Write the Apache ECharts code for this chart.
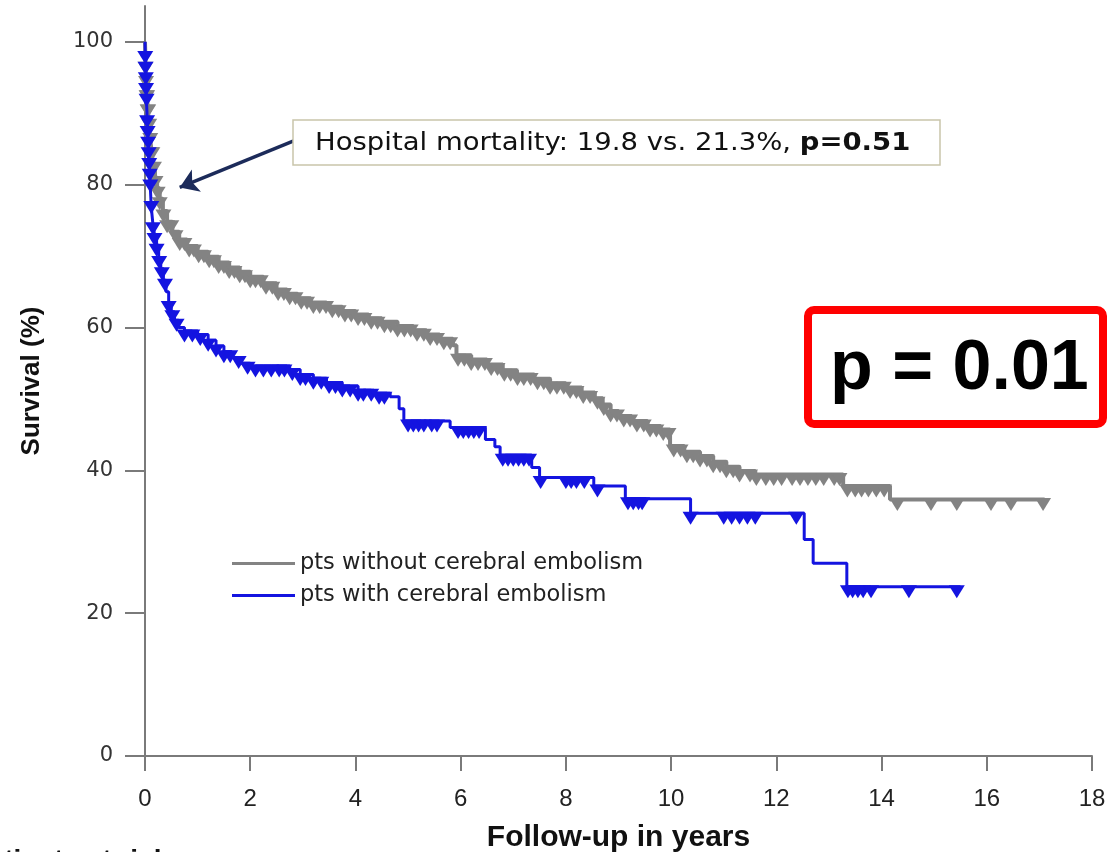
<!DOCTYPE html>
<html>
<head>
<meta charset="utf-8">
<title>Survival by cerebral embolism</title>
<script src="https://cdn.jsdelivr.net/npm/echarts@6/dist/echarts.min.js"></script>
<style>
  html, body { margin: 0; padding: 0; background: #fff; }
  #chart { width: 1107px; height: 852px; }
</style>
</head>
<body>
<div id="chart"></div>
<script>
// --- data ---
// KM steps: time (years) and survival (%) after each drop
const grayTimes = [0, 0.01, 0.02, 0.03, 0.05, 0.07, 0.09, 0.12, 0.15, 0.19, 0.23, 0.28, 0.34, 0.42, 0.52, 0.65, 0.8, 1.0, 1.2, 1.4, 1.6, 1.8, 2.0, 2.25, 2.5, 2.7, 2.9, 3.15, 3.45, 3.75, 4.0, 4.25, 4.5, 4.8, 5.1, 5.35, 5.6, 5.85, 5.92, 6.2, 6.5, 6.8, 7.07, 7.4, 7.7, 8.0, 8.3, 8.55, 8.7, 8.85, 9.0, 9.25, 9.55, 9.8, 9.98, 10.25, 10.55, 10.8, 11.05, 11.3, 11.6, 13.27, 14.16, 17.1];
const grayValues = [100, 97, 95, 93, 91, 89, 87, 85, 83, 81, 79.5, 78, 76.3, 74.8, 73.4, 72.3, 71.4, 70.6, 69.9, 69.1, 68.4, 67.8, 67.1, 66.2, 65.3, 64.7, 64.1, 63.5, 62.9, 62.3, 61.8, 61.3, 60.8, 60.2, 59.6, 59.0, 58.4, 57.5, 56.1, 55.5, 54.8, 54.0, 53.4, 52.8, 52.2, 51.6, 50.9, 50.1, 49.2, 48.3, 47.6, 46.9, 46.2, 45.7, 43.4, 42.6, 42.0, 41.2, 40.5, 39.9, 39.4, 37.8, 35.9, 35.9];
// censored patients (triangles)
const grayCensor = [0.01, 0.02, 0.03, 0.04, 0.05, 0.06, 0.08, 0.1, 0.12, 0.14, 0.17, 0.2, 0.24, 0.28, 0.35, 0.42, 0.5, 0.58, 0.66, 0.75, 0.84, 0.93, 1.02, 1.12, 1.22, 1.31, 1.4, 1.5, 1.6, 1.7, 1.8, 1.9, 2.0, 2.1, 2.2, 2.3, 2.42, 2.53, 2.64, 2.75, 2.86, 2.97, 3.08, 3.2, 3.32, 3.44, 3.56, 3.68, 3.8, 3.92, 4.05, 4.17, 4.3, 4.42, 4.55, 4.67, 4.8, 4.93, 5.05, 5.17, 5.3, 5.42, 5.55, 5.68, 5.8, 5.95, 6.07, 6.2, 6.33, 6.46, 6.58, 6.7, 6.83, 6.95, 7.08, 7.2, 7.33, 7.46, 7.58, 7.7, 7.83, 7.96, 8.08, 8.2, 8.33, 8.46, 8.6, 8.72, 8.85, 8.97, 9.1, 9.22, 9.35, 9.48, 9.6, 9.72, 9.85, 9.95, 10.05, 10.18, 10.3, 10.42, 10.55, 10.68, 10.8, 10.93, 11.05, 11.18, 11.3, 11.5, 11.62, 11.8, 11.95, 12.1, 12.3, 12.45, 12.6, 12.75, 12.9, 13.1, 13.2, 13.35, 13.5, 13.62, 13.75, 13.9, 14.05, 14.3, 14.94, 15.43, 16.08, 16.46, 17.07];

const blueTimes = [0, 0.004, 0.008, 0.012, 0.018, 0.025, 0.032, 0.04, 0.048, 0.056, 0.065, 0.075, 0.085, 0.095, 0.105, 0.115, 0.13, 0.15, 0.18, 0.22, 0.26, 0.3, 0.35, 0.4, 0.45, 0.5, 0.56, 0.64, 0.75, 1.0, 1.2, 1.35, 1.5, 1.65, 1.8, 2.0, 2.75, 2.95, 3.2, 3.45, 3.75, 4.05, 4.35, 4.66, 4.83, 4.92, 5.8, 6.47, 6.65, 6.75, 7.35, 7.5, 8.53, 9.13, 10.37, 12.53, 12.7, 13.34, 15.5];
const blueValues = [100, 98.5, 97, 95.5, 94, 92.5, 91, 89.5, 88, 86.5, 85, 83.5, 82, 80.5, 79, 77.5, 76, 74.5, 73, 71.5, 69.8, 68.2, 66.6, 65, 63.5, 62.2, 61, 60, 59.5, 59.0, 58.2, 57.4, 56.6, 55.8, 55.0, 54.6, 54.1, 53.4, 52.9, 52.3, 51.8, 51.2, 50.8, 50.3, 48.6, 46.9, 46.0, 44.3, 43.3, 42.1, 40.4, 39.0, 37.8, 36.0, 34.0, 30.3, 27.0, 23.7, 23.7];
const blueCensor = [0.005, 0.01, 0.015, 0.02, 0.03, 0.04, 0.05, 0.06, 0.07, 0.08, 0.09, 0.1, 0.12, 0.15, 0.18, 0.22, 0.27, 0.32, 0.38, 0.45, 0.52, 0.6, 0.75, 0.9, 1.05, 1.2, 1.35, 1.5, 1.62, 1.78, 1.95, 2.1, 2.25, 2.4, 2.55, 2.65, 2.8, 2.95, 3.05, 3.2, 3.35, 3.5, 3.62, 3.75, 3.9, 4.05, 4.15, 4.3, 4.45, 4.55, 5.0, 5.1, 5.2, 5.3, 5.45, 5.55, 5.95, 6.05, 6.15, 6.25, 6.35, 6.8, 6.9, 7.0, 7.1, 7.2, 7.3, 7.52, 8.0, 8.1, 8.2, 8.35, 8.6, 9.18, 9.28, 9.38, 9.45, 10.37, 11.0, 11.15, 11.3, 11.45, 11.6, 12.38, 13.36, 13.45, 13.55, 13.65, 13.8, 14.52, 15.43];

const xTicks = [0, 2, 4, 6, 8, 10, 12, 14, 16, 18];
const yTicks = [0, 20, 40, 60, 80, 100];

const grayName = 'pts without cerebral embolism';
const blueName = 'pts with cerebral embolism';

// survival value of a step curve at time t
const stepValue = (times, values, t) => {
  let v = values[0];
  for (let i = 0; i < times.length; i++) {
    if (times[i] <= t) v = values[i];
  }
  return v;
};

const pairs = (xs, ys) => xs.map((x, i) => [x, ys[i]]);
const censorPoints = (cens, times, values) => cens.map(t => [t, stepValue(times, values, t)]);

const GRAY = '#838383';
const BLUE = '#1414e0';

const chart = echarts.init(document.getElementById('chart'));

const censorSymbol = (color, z) => ({
  type: 'scatter',
  symbol: 'triangle',
  symbolSize: [16, 13],
  symbolRotate: 180,
  symbolOffset: [0, 5],
  itemStyle: { color: color, opacity: 1 },
  silent: true,
  z: z
});

const option = {
  animation: false,
  backgroundColor: '#ffffff',
  grid: { left: 145, right: 15, top: 6, bottom: 96, outerBoundsMode: 'none', containLabel: false },
  legend: {
    data: [grayName, blueName],
    orient: 'vertical',
    left: 227,
    top: 547,
    icon: 'rect',
    itemWidth: 63,
    itemHeight: 3,
    itemGap: 9,
    textStyle: { fontFamily: 'DejaVu Sans', fontSize: 22.5, color: '#222', lineHeight: 22 }
  },
  xAxis: {
    type: 'value',
    min: 0,
    max: 18,
    interval: 2,
    name: 'Follow-up in years',
    nameLocation: 'middle',
    nameGap: 67,
    nameTextStyle: { fontFamily: 'Liberation Sans Narrow, Liberation Sans', fontWeight: 'bold', fontSize: 30, color: '#111' },
    axisLine: { lineStyle: { color: '#7a7a7a', width: 2 } },
    axisTick: { length: 15, lineStyle: { color: '#7a7a7a', width: 2 }, customValues: xTicks },
    axisLabel: { margin: 31, fontFamily: 'Liberation Sans Narrow, Liberation Sans', fontSize: 24, color: '#222', customValues: xTicks },
    splitLine: { show: false }
  },
  yAxis: {
    type: 'value',
    min: 0,
    max: 105,
    name: 'Survival (%)',
    nameLocation: 'middle',
    nameGap: 100,
    nameTextStyle: { fontFamily: 'Liberation Sans Narrow, Liberation Sans', fontWeight: 'bold', fontSize: 26, color: '#111' },
    axisLine: { show: true, lineStyle: { color: '#7a7a7a', width: 2 } },
    axisTick: { show: true, length: 20, lineStyle: { color: '#7a7a7a', width: 2 }, customValues: yTicks },
    axisLabel: { margin: 32, fontFamily: 'DejaVu Sans', fontSize: 21, color: '#333', customValues: yTicks },
    splitLine: { show: false }
  },
  series: [
    {
      name: grayName,
      type: 'line',
      step: 'end',
      symbol: 'none',
      data: pairs(grayTimes, grayValues),
      lineStyle: { color: GRAY, width: 4 },
      itemStyle: { color: GRAY },
      z: 2,
      markLine: {
        silent: true,
        symbol: ['none', 'arrow'],
        symbolSize: 18,
        label: { show: false },
        lineStyle: { color: '#1c2b5a', width: 3.5, type: 'solid' },
        data: [[{ coord: [2.85, 86.2] }, { coord: [0.66, 79.6] }]]
      }
    },
    Object.assign(censorSymbol(GRAY, 3), { data: censorPoints(grayCensor, grayTimes, grayValues) }),
    {
      name: blueName,
      type: 'line',
      step: 'end',
      symbol: 'none',
      data: pairs(blueTimes, blueValues),
      lineStyle: { color: BLUE, width: 3 },
      itemStyle: { color: BLUE },
      z: 4
    },
    Object.assign(censorSymbol(BLUE, 5), { data: censorPoints(blueCensor, blueTimes, blueValues) })
  ],
  graphic: [
    // hospital mortality note
    {
      type: 'rect',
      shape: { x: 293, y: 120, width: 647, height: 45 },
      style: { fill: '#fff', stroke: '#c9c5aa', lineWidth: 1.5 },
      z: 10
    },
    {
      type: 'text',
      x: 315,
      y: 143,
      scaleX: 1.1,
      style: {
        text: '{a|Hospital mortality: 19.8 vs. 21.3%, }{b|p=0.51}',
        verticalAlign: 'middle',
        rich: {
          a: { fontFamily: 'DejaVu Sans', fontSize: 25, fill: '#111' },
          b: { fontFamily: 'DejaVu Sans', fontSize: 25, fontWeight: 'bold', fill: '#111' }
        }
      },
      z: 11
    },
    // log-rank p value box
    {
      type: 'rect',
      shape: { x: 808, y: 310, width: 295, height: 114, r: 6 },
      style: { fill: 'transparent', stroke: '#ff0000', lineWidth: 8 },
      z: 10
    },
    {
      type: 'text',
      x: 830,
      y: 370,
      style: {
        text: 'p = 0.01',
        fontFamily: 'Liberation Sans',
        fontWeight: 'bold',
        fontSize: 70,
        fill: '#000',
        verticalAlign: 'middle'
      },
      z: 11
    },
    // cut-off caption at the bottom edge
    {
      type: 'text',
      x: -30,
      y: 847,
      style: {
        text: 'Patients at risk',
        fontFamily: 'Liberation Sans Narrow, Liberation Sans',
        fontWeight: 'bold',
        fontSize: 28,
        fill: '#111'
      }
    }
  ]
};

chart.setOption(option);
</script>
</body>
</html>
